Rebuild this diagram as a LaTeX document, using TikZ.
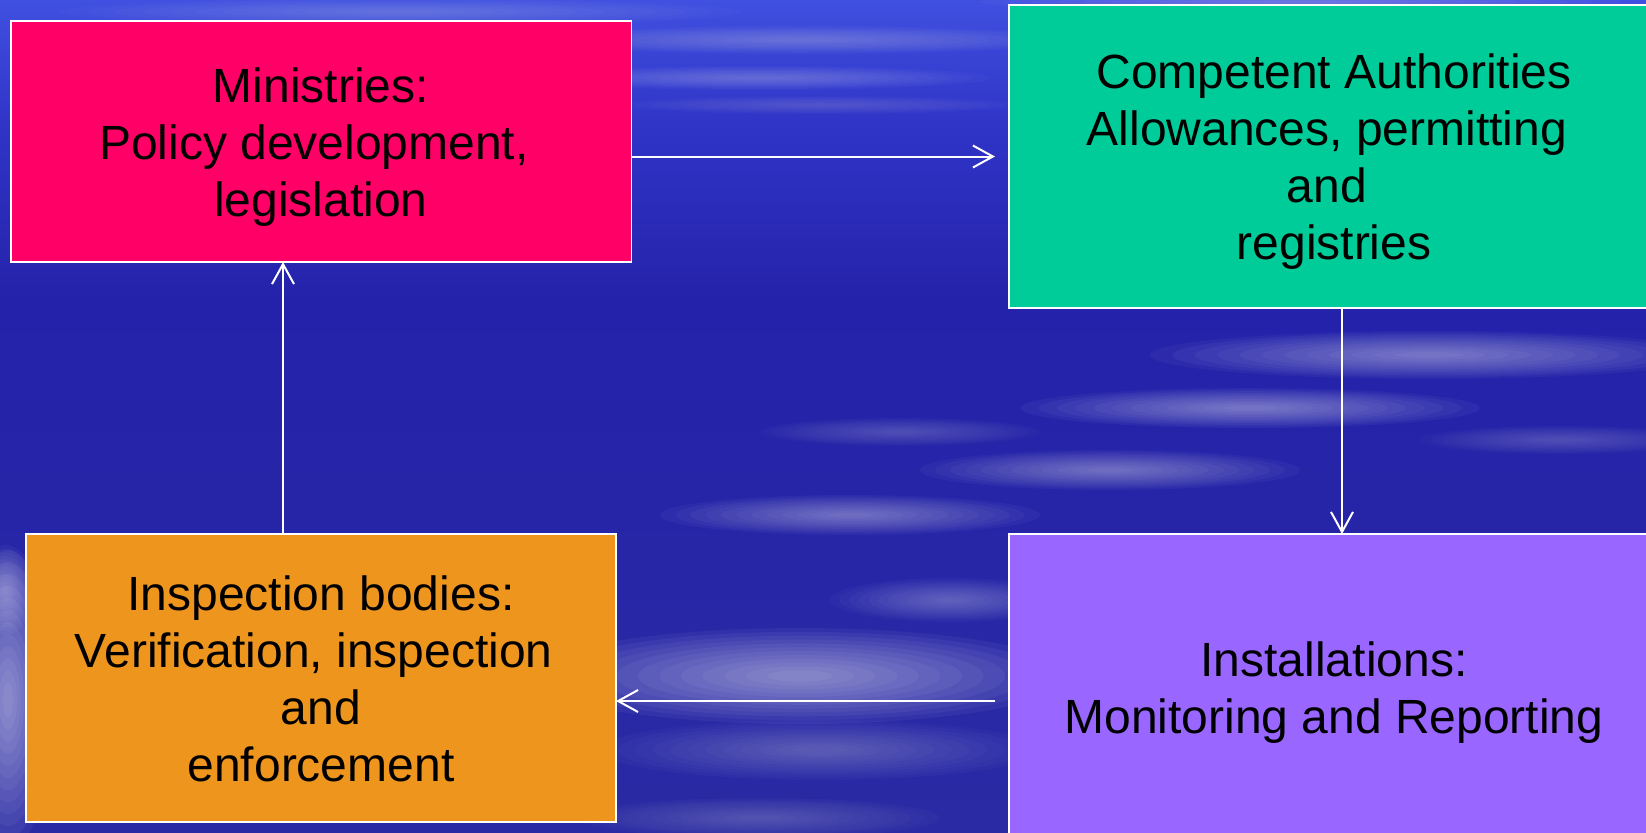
\documentclass[tikz,border=0pt]{standalone}
\usepackage{fontspec}
\setmainfont{Liberation Sans}
\usetikzlibrary{arrows.meta}
\definecolor{skyA}{HTML}{4050E0}
\definecolor{skyB}{HTML}{3035C8}
\definecolor{skyC}{HTML}{2422AA}
\definecolor{skyD}{HTML}{2A2AA4}
\definecolor{minRed}{HTML}{FF0066}
\definecolor{authGreen}{HTML}{00CC99}
\definecolor{inspOrange}{HTML}{EE951E}
\definecolor{instPurple}{HTML}{9966FF}
\pgfdeclareverticalshading{skyshade}{100bp}{color(0bp)=(skyD); color(25bp)=(skyD); color(57bp)=(skyC); color(67.8bp)=(skyB); color(75bp)=(skyA); color(100bp)=(skyA)}
\newcommand\cloudblob[5]{%
  \foreach \s in {1,0.92,0.84,0.76,0.68,0.6,0.52,0.44,0.36,0.28,0.2,0.12}{%
    \fill[white, opacity=#5*0.42] (#1,#2) ellipse [x radius=\s*#3, y radius=\s*#4];}}
\newcommand\tsp{\rule{0.3em}{0pt}}
\begin{document}
\begin{tikzpicture}[x=0.5pt, y=-0.5pt,
  box/.style={draw=white, line width=0.75pt, inner sep=0pt, outer sep=0pt},
  label/.style={align=center, inner sep=0pt, font=\fontsize{24}{28.5}\selectfont, text=black},
  conn/.style={draw=white, line width=1pt, -{Straight Barb[length=10pt, width=11pt, line width=1pt]}}]
\useasboundingbox (0,0) rectangle (1646,832);
% background sky
\shade[shading=skyshade] (0,0) rectangle (1646,832);
% clouds
\cloudblob{400}{12}{340}{14}{0.05}
\cloudblob{800}{40}{280}{14}{0.06}
\cloudblob{760}{78}{230}{12}{0.06}
\cloudblob{820}{105}{200}{9}{0.04}
\cloudblob{1300}{2}{320}{9}{0.06}
\cloudblob{1430}{355}{280}{24}{0.09}
\cloudblob{1250}{408}{230}{20}{0.09}
\cloudblob{900}{432}{140}{14}{0.05}
\cloudblob{1110}{470}{190}{20}{0.08}
\cloudblob{850}{515}{190}{20}{0.08}
\cloudblob{950}{600}{120}{22}{0.07}
\cloudblob{800}{676}{270}{48}{0.11}
\cloudblob{820}{750}{220}{30}{0.06}
\cloudblob{760}{818}{180}{20}{0.05}
\cloudblob{8}{700}{45}{150}{0.12}
\cloudblob{5}{590}{30}{45}{0.08}
\cloudblob{1560}{440}{140}{14}{0.05}
% boxes
\node[box, fill=minRed, minimum width=620.5pt*0.5, minimum height=241pt*0.5] (ministries) at (321,141.5) {};
\node[box, fill=authGreen, minimum width=666pt*0.5, minimum height=303pt*0.5] (authorities) at (1342,156.5) {};
\node[box, fill=inspOrange, minimum width=590pt*0.5, minimum height=288pt*0.5] (inspection) at (321,678) {};
\node[box, fill=instPurple, minimum width=666pt*0.5, minimum height=334pt*0.5] (installations) at (1342,701) {};
% texts
\node[label] (ministriesText) at (321,146.8) {Ministries:\\Policy development,\tsp\\legislation};
\node[label] (authoritiesText) at (1334,162) {Competent Authorities\\Allowances, permitting\tsp\\and\tsp\\registries};
\node[label] (inspectionText) at (321,678.4) {Inspection bodies:\\Verification, inspection\tsp\\and\\enforcement};
\node[label] (installationsText) at (1334,692.8) {Installations:\\Monitoring and Reporting};
% connectors
\coordinate (upline) at (283,534);
\draw[conn] (ministries.east |- authorities.west) -- ([xshift=-7pt]authorities.west);
\draw[conn] (authorities.south) -- (installations.north);
\draw[conn] ([xshift=-7pt]installations.west) -- (inspection.east |- installations.west);
\draw[conn] (inspection.north -| upline) -- (ministries.south -| upline);
\end{tikzpicture}
\end{document}
